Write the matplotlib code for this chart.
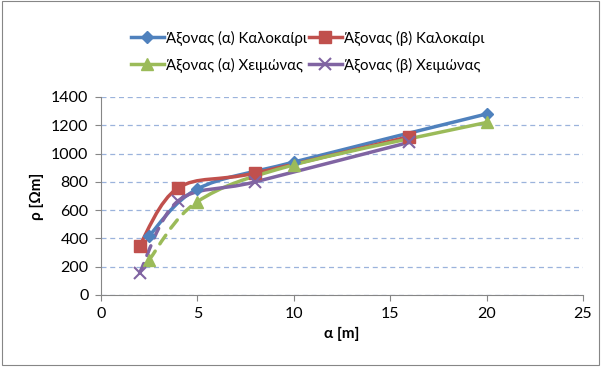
import matplotlib.pyplot as plt
from matplotlib.path import Path
from matplotlib.patches import PathPatch
from matplotlib.lines import Line2D

plt.rcParams['font.family'] = ['Lato', 'DejaVu Sans']

# Άξονας (α)
a_alpha = [2.5, 5, 10, 20]
rho_alpha_summer = [420, 750, 940, 1280]
rho_alpha_winter = [250, 660, 920, 1220]
# Άξονας (β)
a_beta = [2, 4, 8, 16]
rho_beta_summer = [350, 757, 862, 1120]
rho_beta_winter = [155, 665, 800, 1080]

labels = ["Άξονας (α) Καλοκαίρι", "Άξονας (β) Καλοκαίρι",
          "Άξονας (α) Χειμώνας", "Άξονας (β) Χειμώνας"]
colors = ["#4F81BD", "#C0504D", "#9BBB59", "#8064A2"]
markers = ["D", "s", "^", "x"]
msizes = [6, 8, 8, 8]
dashed_first = [False, False, True, True]


def smooth_segments(x, y):
    """Bezier segments like Excel's smoothed lines."""
    n = len(x)
    segs = []
    for i in range(n - 1):
        x0, y0 = x[max(i - 1, 0)], y[max(i - 1, 0)]
        x1, y1 = x[i], y[i]
        x2, y2 = x[i + 1], y[i + 1]
        x3, y3 = x[min(i + 2, n - 1)], y[min(i + 2, n - 1)]
        c1 = (x1 + (x2 - x0) / 6, y1 + (y2 - y0) / 6)
        c2 = (x2 - (x3 - x1) / 6, y2 - (y3 - y1) / 6)
        segs.append([(x1, y1), c1, c2, (x2, y2)])
    return segs


fig = plt.figure(figsize=(6.03, 3.67), dpi=100)
ax = fig.add_axes([101 / 603, 1 - 295 / 367, 482 / 603, 198 / 367])

series = [(a_alpha, rho_alpha_summer), (a_beta, rho_beta_summer),
          (a_alpha, rho_alpha_winter), (a_beta, rho_beta_winter)]

handles = []
for k, (xs, ys) in enumerate(series):
    for i, seg in enumerate(smooth_segments(xs, ys)):
        path = Path(seg, [Path.MOVETO, Path.CURVE4, Path.CURVE4, Path.CURVE4])
        ls = (0, (3, 2.5)) if (i == 0 and dashed_first[k]) else "-"
        ax.add_patch(PathPatch(path, fill=False, edgecolor=colors[k],
                               lw=2.5, linestyle=ls, zorder=2 + k * 0.1,
                               capstyle="round"))
    ax.plot(xs, ys, linestyle="none", marker=markers[k], ms=msizes[k],
            color=colors[k], mew=1.5 if markers[k] == "x" else 1,
            zorder=3 + k * 0.1)
    handles.append(Line2D([], [], color=colors[k], lw=2.5, marker=markers[k],
                          ms=msizes[k], mew=1.5 if markers[k] == "x" else 1))

ax.set_xlim(0, 25)
ax.set_ylim(0, 1400)
ax.set_xticks(range(0, 26, 5))
ax.set_yticks(range(0, 1401, 200))
ax.grid(axis="y", color="#9BB3DC", linestyle=(0, (4, 3)), lw=0.9)
ax.set_axisbelow(True)
for s in ["top", "right"]:
    ax.spines[s].set_visible(False)
for s in ["left", "bottom"]:
    ax.spines[s].set_color("#868686")
ax.tick_params(direction="out", length=4, color="#868686", labelsize=11.5,
               pad=5)
ax.set_xlabel("α [m]", fontsize=11, fontweight="bold", labelpad=4)
ax.set_ylabel("ρ [Ωm]", fontsize=11, fontweight="bold", labelpad=5)

# matplotlib fills legend column by column: reorder so rows read left to right
order = [0, 2, 1, 3]
fig.legend([handles[i] for i in order], [labels[i] for i in order], ncol=2,
           loc="upper left", bbox_to_anchor=(117 / 603, 1 - 17 / 367),
           frameon=False, fontsize=10.8, handlelength=2.2,
           handletextpad=0.15, columnspacing=0.15, labelspacing=0.8)

border = plt.Rectangle((0.004, 0.006), 0.99, 0.99, transform=fig.transFigure,
                       fill=False, edgecolor="#868686", lw=0.8)
fig.patches.append(border)

fig.savefig("out.png", dpi=100)
